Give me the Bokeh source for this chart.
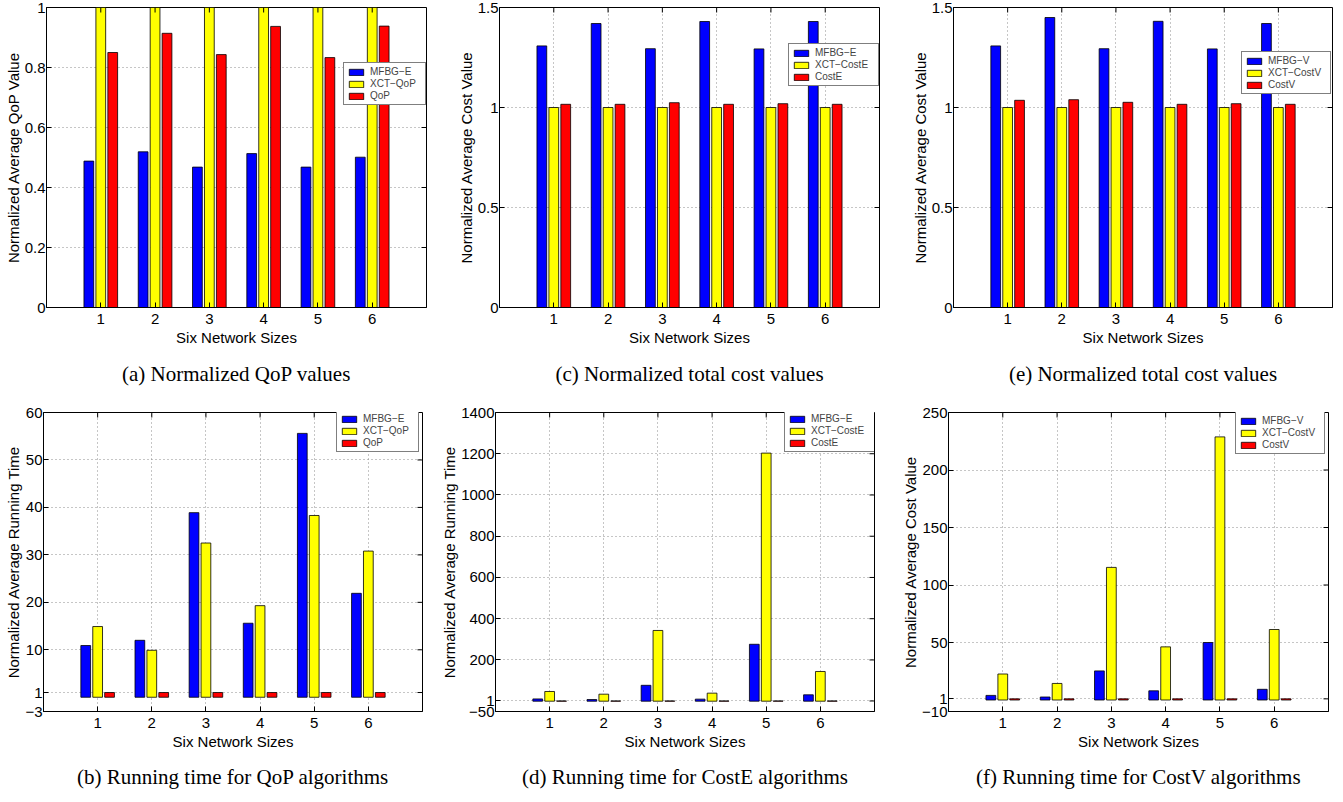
import math
from bokeh.plotting import figure
from bokeh.models import (ColumnDataSource, Range1d, FixedTicker, Legend, LegendItem, Title,
                          GlobalInlineStyleSheet)
from bokeh.layouts import row, column
from bokeh.transform import dodge
from bokeh.embed import file_html
from bokeh.resources import INLINE

# ---------------- data ----------------
sizes = [1, 2, 3, 4, 5, 6]

# (a) Normalized QoP values
a_mfbg = [0.488, 0.519, 0.468, 0.513, 0.468, 0.501]
a_xct = [1.0, 1.0, 1.0, 1.0, 1.0, 1.0]
a_qop = [0.850, 0.914, 0.843, 0.937, 0.833, 0.938]

# (b) Running time for QoP algorithms
b_mfbg = [10.9, 12.0, 38.9, 15.6, 55.6, 21.9]
b_xct = [14.9, 9.9, 32.5, 19.3, 38.3, 30.8]
b_qop = [1, 1, 1, 1, 1, 1]

# (c) Normalized total cost values (CostE)
c_mfbg = [1.308, 1.420, 1.294, 1.430, 1.293, 1.430]
c_xct = [1.0, 1.0, 1.0, 1.0, 1.0, 1.0]
c_cost = [1.016, 1.016, 1.024, 1.016, 1.019, 1.016]

# (d) Running time for CostE algorithms
d_mfbg = [11, 8, 77, 10, 276, 31]
d_xct = [47, 34, 343, 39, 1203, 144]
d_cost = [1, 1, 1, 1, 1, 1]

# (e) Normalized total cost values (CostV)
e_mfbg = [1.308, 1.450, 1.294, 1.431, 1.293, 1.420]
e_xct = [1.0, 1.0, 1.0, 1.0, 1.0, 1.0]
e_cost = [1.036, 1.039, 1.026, 1.016, 1.019, 1.016]

# (f) Running time for CostV algorithms
f_mfbg = [4.0, 2.6, 25.3, 8.0, 50.0, 9.3]
f_xct = [22.6, 14.4, 115.3, 46.2, 228.8, 61.3]
f_cost = [1, 1, 1, 1, 1, 1]

x_ticks = [1, 2, 3, 4, 5, 6]
a_ticks = [0, 0.2, 0.4, 0.6, 0.8, 1.0]
a_labels = ["0", "0.2", "0.4", "0.6", "0.8", "1"]
ce_ticks = [0, 0.5, 1.0, 1.5]
ce_labels = ["0", "0.5", "1", "1.5"]
b_ticks = [-3, 1, 10, 20, 30, 40, 50, 60]
b_labels = ["\u22123", "1", "10", "20", "30", "40", "50", "60"]
d_ticks = [-50, 1, 200, 400, 600, 800, 1000, 1200, 1400]
d_labels = ["\u221250", "1", "200", "400", "600", "800", "1000", "1200", "1400"]
f_ticks = [-10, 1, 50, 100, 150, 200, 250]
f_labels = ["\u221210", "1", "50", "100", "150", "200", "250"]

SANS = "Liberation Sans"
SERIF = "Liberation Serif"
COLORS = ["#0000FF", "#FFFF00", "#FF0000"]
X_LO, X_HI = 0, 7


def panel(caption, ylabel, names, series, yr, yticks, ylabels, leg_xy, label_w,
          width, height, left, right, top, bottom, cap_standoff):
    p = figure(width=width, height=height, output_backend="svg", toolbar_location=None,
               x_range=Range1d(X_LO, X_HI), y_range=Range1d(*yr),
               min_border_left=left, min_border_right=right,
               min_border_top=top, min_border_bottom=bottom)
    p.outline_line_color = "black"
    p.outline_line_width = 1
    p.background_fill_color = "white"
    p.border_fill_color = "white"

    src = ColumnDataSource(dict(x=sizes, s0=series[0], s1=series[1], s2=series[2]))
    renderers = []
    for i, (off, key) in enumerate(zip([-0.22, 0.0, 0.22], ["s0", "s1", "s2"])):
        r = p.vbar(x=dodge("x", off, range=p.x_range), top=key, bottom=0, width=0.18,
                   source=src, fill_color=COLORS[i], line_color="black", line_width=0.8)
        renderers.append(r)

    # mirrored inward ticks on the top and right edges of the box
    p.ray(x=x_ticks, y=[yr[1]] * len(x_ticks), length=5, length_units="screen",
          angle=-math.pi / 2, line_color="black", line_width=1)
    p.ray(x=[X_HI] * len(yticks), y=yticks, length=5, length_units="screen",
          angle=math.pi, line_color="black", line_width=1)

    p.xaxis.ticker = FixedTicker(ticks=x_ticks)
    p.yaxis.ticker = FixedTicker(ticks=yticks)
    p.yaxis.major_label_overrides = {t: l for t, l in zip(yticks, ylabels)}
    for ax in (p.xaxis[0], p.yaxis[0]):
        ax.major_tick_in = 5
        ax.major_tick_out = 0
        ax.minor_tick_line_color = None
        ax.axis_line_color = "black"
        ax.major_tick_line_color = "black"
        ax.major_label_text_font = SANS
        ax.major_label_text_font_size = "15px"
        ax.major_label_text_color = "black"
        ax.axis_label_text_font = SANS
        ax.axis_label_text_font_size = "15px"
        ax.axis_label_text_font_style = "normal"
        ax.axis_label_text_color = "black"
    p.xaxis.major_label_standoff = 6
    p.xaxis.axis_label_standoff = 2
    p.yaxis.major_label_standoff = 1
    p.yaxis.axis_label_standoff = 0
    p.xaxis.axis_label = "Six Network Sizes"
    p.yaxis.axis_label = ylabel

    # dotted grid
    for g in (p.xgrid, p.ygrid):
        g.grid_line_color = "#8c8c8c"
        g.grid_line_dash = "1 3"
        g.grid_line_width = 1

    leg = Legend(items=[LegendItem(label=n, renderers=[r]) for n, r in zip(names, renderers)],
                 location=leg_xy, orientation="vertical",
                 border_line_color="black", border_line_width=1,
                 background_fill_color="white", background_fill_alpha=1,
                 label_text_font=SANS, label_text_font_size="10px",
                 glyph_width=18, glyph_height=8, label_height=10, label_width=label_w,
                 label_standoff=5, spacing=1, padding=3, margin=0)
    p.add_layout(leg)

    p.add_layout(Title(text=caption, align="center", text_font=SERIF, text_font_size="21px",
                       text_font_style="normal", text_color="black", standoff=cap_standoff), "below")
    return p


top_kw = dict(height=398, top=7, bottom=91, cap_standoff=23)
bot_kw = dict(height=404, top=14, bottom=91, cap_standoff=21)

pa = panel("(a) Normalized QoP values", "Normalized Average QoP Value",
           ["MFBG\u2212E", "XCT\u2212QoP", "QoP"], [a_mfbg, a_xct, a_qop],
           (0, 1), a_ticks, a_labels, (297, 202), 52, width=450, left=46, right=24, **top_kw)
pc = panel("(c) Normalized total cost values", "Normalized Average Cost Value",
           ["MFBG\u2212E", "XCT\u2212CostE", "CostE"], [c_mfbg, c_xct, c_cost],
           (0, 1.5), ce_ticks, ce_labels, (289, 221), 60, width=450, left=49, right=21, **top_kw)
pe = panel("(e) Normalized total cost values", "Normalized Average Cost Value",
           ["MFBG\u2212V", "XCT\u2212CostV", "CostV"], [e_mfbg, e_xct, e_cost],
           (0, 1.5), ce_ticks, ce_labels, (288, 213), 59, width=437, left=53, right=5, **top_kw)
pb = panel("(b) Running time for QoP algorithms", "Normalized Average Running Time",
           ["MFBG\u2212E", "XCT\u2212QoP", "QoP"], [b_mfbg, b_xct, b_qop],
           (-3, 60), b_ticks, b_labels, (293, 259), 52, width=436, left=43, right=14, **bot_kw)
pd_ = panel("(d) Running time for CostE algorithms", "Normalized Average Running Time",
            ["MFBG\u2212E", "XCT\u2212CostE", "CostE"], [d_mfbg, d_xct, d_cost],
            (-50, 1400), d_ticks, d_labels, (289, 259), 60, width=461, left=59, right=23, **bot_kw)
pf = panel("(f) Running time for CostV algorithms", "Normalized Average Cost Value",
           ["MFBG\u2212V", "XCT\u2212CostV", "CostV"], [f_mfbg, f_xct, f_cost],
           (-10, 250), f_ticks, f_labels, (287, 257), 59, width=436, left=51, right=5, **bot_kw)

layout = column(row(pa, pc, pe), row(pb, pd_, pf))
layout.stylesheets = [GlobalInlineStyleSheet(css="html, body { overflow: hidden; }")]

with open("out.html", "w") as fh:
    fh.write(file_html(layout, INLINE))
